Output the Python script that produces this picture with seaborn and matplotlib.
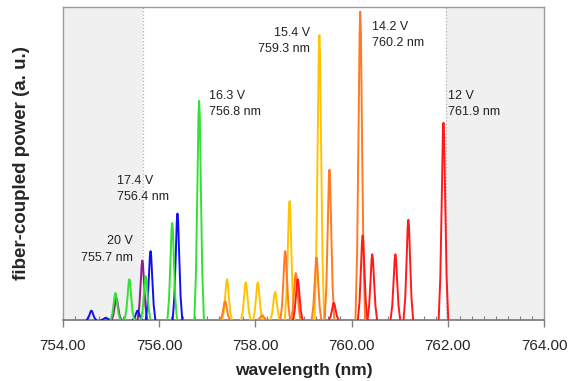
import numpy as np
import pandas as pd
import matplotlib
matplotlib.use("Agg")
import matplotlib.pyplot as plt
import seaborn as sns
from matplotlib.ticker import MultipleLocator, FormatStrFormatter

# ---- data (peak centre in nm, peak height in a.u.) ----
voltages = ["20 V", "17.4 V", "16.3 V", "15.4 V", "14.2 V", "12 V"]

peaks_20V_nm = [755.11, 755.65]
peaks_20V_h = [0.07, 0.19]

peaks_174V_nm = [754.59, 754.89, 755.55, 755.82, 756.38]
peaks_174V_h = [0.03, 0.007, 0.03, 0.22, 0.34]

peaks_163V_nm = [755.09, 755.38, 755.72, 756.27, 756.83]
peaks_163V_h = [0.086, 0.13, 0.14, 0.31, 0.70]

peaks_154V_nm = [757.41, 757.80, 758.05, 758.41, 758.71, 759.33]
peaks_154V_h = [0.13, 0.12, 0.12, 0.09, 0.38, 0.91]

peaks_142V_nm = [757.37, 758.14, 758.62, 758.84, 759.27, 759.54, 760.18]
peaks_142V_h = [0.06, 0.015, 0.22, 0.15, 0.20, 0.48, 0.985]

peaks_12V_nm = [758.88, 759.63, 760.23, 760.43, 760.91, 761.18, 761.91]
peaks_12V_h = [0.13, 0.055, 0.27, 0.21, 0.21, 0.32, 0.63]

# line-shape of one mode (offset in nm, relative height)
profile_dx = [-0.10, -0.065, -0.035, -0.014, 0.0, 0.014, 0.035, 0.065, 0.10]
profile_rel = [0.0, 0.22, 0.62, 0.93, 1.0, 0.93, 0.62, 0.22, 0.0]

labels_text = ["20 V\n755.7 nm", "17.4 V\n756.4 nm", "16.3 V\n756.8 nm",
               "15.4 V\n759.3 nm", "14.2 V\n760.2 nm", "12 V\n761.9 nm"]

colors = {"20 V": "#8a1f8a", "17.4 V": "#1010ee", "16.3 V": "#33e033",
          "15.4 V": "#ffc400", "14.2 V": "#ff7a22", "12 V": "#ff1a1a"}

shade_left = (754.0, 755.66)
shade_right = (761.96, 764.0)

# ---- build long table ----
all_peaks = {
    "20 V": (peaks_20V_nm, peaks_20V_h),
    "17.4 V": (peaks_174V_nm, peaks_174V_h),
    "16.3 V": (peaks_163V_nm, peaks_163V_h),
    "15.4 V": (peaks_154V_nm, peaks_154V_h),
    "14.2 V": (peaks_142V_nm, peaks_142V_h),
    "12 V": (peaks_12V_nm, peaks_12V_h),
}
rows = []
uid = 0
for v in voltages:
    for c, h in zip(*all_peaks[v]):
        for dx, r in zip(profile_dx, profile_rel):
            rows.append({"voltage": v, "peak": uid,
                         "wavelength": c + dx, "power": h * r})
        uid += 1
df = pd.DataFrame(rows)

sns.set_style("white")
plt.rcParams["font.family"] = ["Liberation Sans", "DejaVu Sans"]

fig = plt.figure(figsize=(5.68, 3.81), dpi=100)
ax = fig.add_axes([63 / 568, 61 / 381, 481 / 568, 313 / 381])

ax.axvspan(*shade_left, color="#f0f0f0", zorder=0, lw=0)
ax.axvspan(*shade_right, color="#f0f0f0", zorder=0, lw=0)
ax.axvline(shade_left[1], color="#b0b0b0", ls=":", lw=0.9, zorder=1)
ax.axvline(shade_right[0], color="#b0b0b0", ls=":", lw=0.9, zorder=1)

sns.lineplot(data=df, x="wavelength", y="power", hue="voltage", units="peak",
             estimator=None, sort=False, palette=colors, hue_order=voltages,
             lw=1.4, legend=False, ax=ax, zorder=3)

ax.set_xlim(754, 764)
ax.set_ylim(0, 1.0)
ax.xaxis.set_major_locator(MultipleLocator(2))
ax.xaxis.set_minor_locator(MultipleLocator(0.25))
ax.xaxis.set_major_formatter(FormatStrFormatter("%.2f"))
ax.set_yticks([])
ax.tick_params(axis="x", which="major", direction="out", length=5, width=1,
               color="#808080", labelsize=11, pad=9)
ax.tick_params(axis="x", which="minor", direction="in", length=3, width=0.8,
               color="#808080")
ax.xaxis.set_ticks_position("bottom")
for s in ax.spines.values():
    s.set_color("#9a9a9a")
    s.set_linewidth(1.0)
ax.spines["bottom"].set_color("#808080")
ax.spines["bottom"].set_linewidth(1.3)

ax.set_xlabel("wavelength (nm)", fontsize=12.5, fontweight="bold", labelpad=7)
ax.set_ylabel("fiber-coupled power (a. u.)", fontsize=13.5, fontweight="bold",
              labelpad=24)

# annotations (top-of-text position in data coords: wavelength, power)
ann_pos = [(755.45, 0.27, "right"), (755.12, 0.463, "left"),
           (757.03, 0.735, "left"), (759.13, 0.936, "right"),
           (760.42, 0.955, "left"), (762.0, 0.735, "left")]
for txt, (x, y, ha) in zip(labels_text, ann_pos):
    ax.text(x, y, txt, ha=ha, va="top", fontsize=9, color="#222222",
            linespacing=1.45)

fig.savefig("out.png", dpi=100)
